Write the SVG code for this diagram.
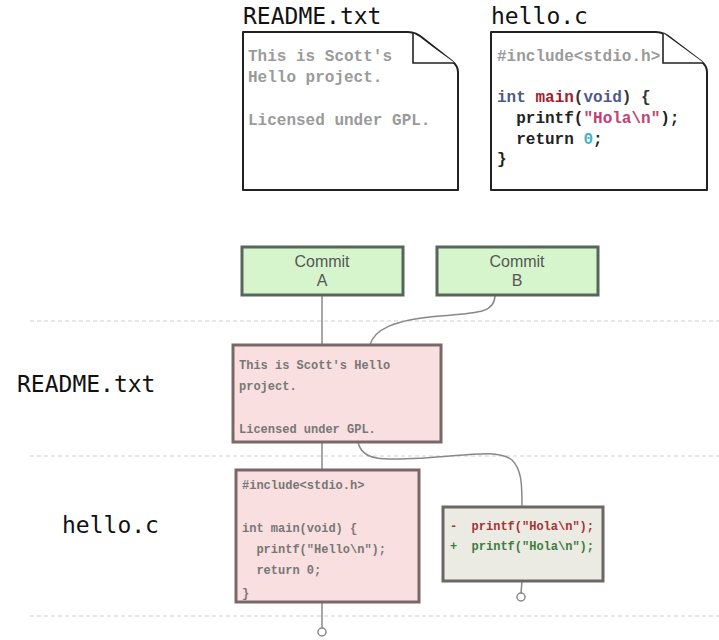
<svg xmlns="http://www.w3.org/2000/svg" width="719" height="640" viewBox="0 0 719 640">
  <style>
    .title { font-family: "DejaVu Sans Mono", monospace; font-size: 23px; fill: #111; }
    .doc { fill: #fff; stroke: #222; stroke-width: 2; stroke-linejoin: round; }
    .fold { fill: #fff; stroke: #222; stroke-width: 1.6; }
    .code16 { font-family: "Liberation Mono", "Courier New", monospace; font-size: 16px; font-weight: bold; }
    .code12 { font-family: "Liberation Mono", "Courier New", monospace; font-size: 12px; font-weight: bold; }
    .grey { fill: #9a9a9a; }
    .commit rect { fill: #d6f5cd; stroke: #56665a; stroke-width: 3; }
    .commit text { font-family: "Liberation Sans", Arial, sans-serif; font-size: 16px; fill: #555; text-anchor: middle; }
    .blob { fill: #f9dfe0; stroke: #7a6868; stroke-width: 3; }
    .diff { fill: #ebeae3; stroke: #6a6866; stroke-width: 3; }
    .sep { stroke: #cfcfcf; stroke-width: 1; stroke-dasharray: 4 3; }
    .wire { fill: none; stroke: #888; stroke-width: 1.5; }
    .end { fill: #fff; stroke: #888; stroke-width: 1.5; }
  </style>

  <!-- lane separators -->
  <g id="separators">
    <line class="sep" x1="30" y1="321" x2="719" y2="321"/>
    <line class="sep" x1="30" y1="456" x2="719" y2="456"/>
    <line class="sep" x1="30" y1="616" x2="719" y2="616"/>
  </g>

  <!-- working-tree files -->
  <g id="file-readme">
    <text class="title" x="243" y="24">README.txt</text>
    <path class="doc" d="M243,32 L408,32 Q416,32 424,39 L452,61 Q458,66 458,72 L458,190 L243,190 Z"/>
    <text class="code16 grey" x="248" y="61">This is Scott's</text>
    <text class="code16 grey" x="248" y="82">Hello project.</text>
    <text class="code16 grey" x="248" y="125">Licensed under GPL.</text>
    <path class="fold" d="M413,33 L413,63 L455,63"/>
  </g>

  <g id="file-hello">
    <text class="title" x="491" y="24">hello.c</text>
    <path class="doc" d="M491,32 L656,32 Q664,32 672,39 L701,61 Q707,66 707,72 L707,190 L491,190 Z"/>
    <text class="code16 grey" x="497" y="61">#include&lt;stdio.h&gt;</text>
    <text class="code16" x="497" y="102"><tspan fill="#4d5a86">int</tspan><tspan fill="#333"> </tspan><tspan fill="#a51a2c">main</tspan><tspan fill="#333">(</tspan><tspan fill="#4d5a86">void</tspan><tspan fill="#333">) {</tspan></text>
    <text class="code16" x="497" y="123" xml:space="preserve"><tspan fill="#222">  printf(</tspan><tspan fill="#c4406e">"Hola\n"</tspan><tspan fill="#222">);</tspan></text>
    <text class="code16" x="497" y="144" xml:space="preserve"><tspan fill="#222">  return </tspan><tspan fill="#3fb5c4">0</tspan><tspan fill="#222">;</tspan></text>
    <text class="code16" x="497" y="164" fill="#222">}</text>
    <path class="fold" d="M663,33 L663,63 L704,63"/>
  </g>

  <!-- lane labels -->
  <g id="lane-readme">
    <text class="title" x="17" y="392">README.txt</text>
  </g>
  <g id="lane-hello">
    <text class="title" x="62" y="533">hello.c</text>
  </g>

  <!-- connectors -->
  <g id="connectors">
    <line class="wire" x1="322" y1="295" x2="322" y2="345"/>
    <path class="wire" d="M495,295 C495,313 478,313 440,316 C392,320 374,330 370,345"/>
    <line class="wire" x1="322" y1="442" x2="322" y2="470"/>
    <path class="wire" d="M358,442 C362,462 385,460 425,458 C470,455 498,449 512,460 C522,470 522,485 522,507"/>
    <line class="wire" x1="322" y1="602" x2="322" y2="628"/>
    <line class="wire" x1="522" y1="581" x2="521" y2="593"/>
    <circle class="end" cx="322" cy="632" r="4"/>
    <circle class="end" cx="521" cy="597" r="4"/>
  </g>

  <!-- commits -->
  <g id="commit-a" class="commit">
    <rect x="242" y="247" width="161" height="48"/>
    <text x="322" y="267">Commit</text>
    <text x="322" y="286">A</text>
  </g>
  <g id="commit-b" class="commit">
    <rect x="437" y="247" width="161" height="48"/>
    <text x="517" y="267">Commit</text>
    <text x="517" y="286">B</text>
  </g>

  <!-- blobs -->
  <g id="blob-readme">
    <rect class="blob" x="233" y="345" width="208" height="97"/>
    <text class="code12" x="239" y="369" fill="#777">This is Scott's Hello</text>
    <text class="code12" x="239" y="390" fill="#777">project.</text>
    <text class="code12" x="239" y="433" fill="#777">Licensed under GPL.</text>
  </g>

  <g id="blob-hello">
    <rect class="blob" x="236" y="470" width="183" height="132"/>
    <text class="code12" x="242" y="489" fill="#777">#include&lt;stdio.h&gt;</text>
    <text class="code12" x="242" y="532" fill="#777">int main(void) {</text>
    <text class="code12" x="242" y="553" fill="#777" xml:space="preserve">  printf("Hello\n");</text>
    <text class="code12" x="242" y="574" fill="#777" xml:space="preserve">  return 0;</text>
    <text class="code12" x="242" y="597" fill="#777">}</text>
  </g>

  <g id="diff-hello">
    <rect class="diff" x="443" y="507" width="160" height="74"/>
    <text class="code12" x="450" y="530" fill="#a33434" xml:space="preserve">-  printf("Hola\n");</text>
    <text class="code12" x="450" y="550" fill="#3d7d3d" xml:space="preserve">+  printf("Hola\n");</text>
  </g>
</svg>
